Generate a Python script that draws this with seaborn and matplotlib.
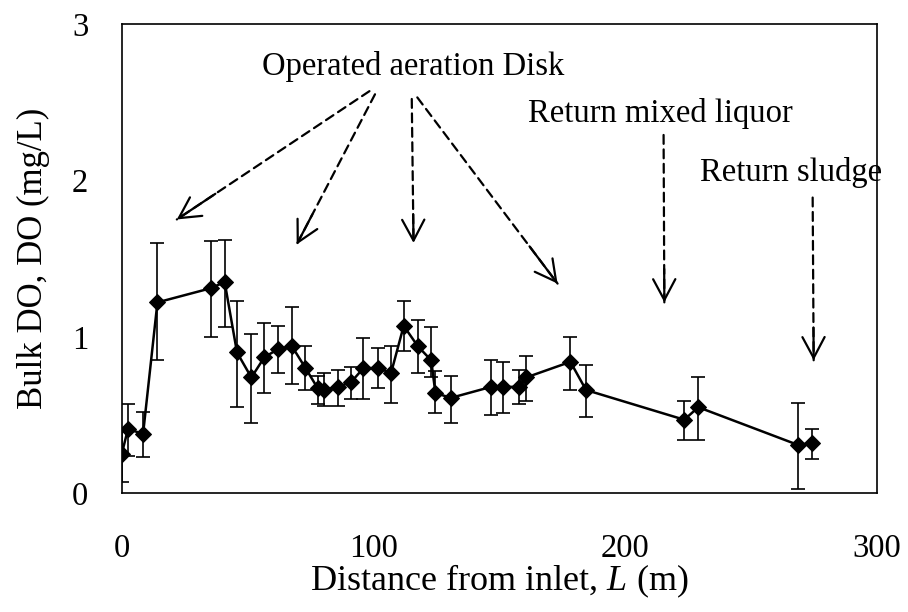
import numpy as np
import pandas as pd
import matplotlib
matplotlib.use("Agg")
import matplotlib.pyplot as plt
import seaborn as sns

# Bulk DO along the tank
distance = [0, 2.5, 8.5, 14.2, 35.3, 40.9, 45.8, 51.5, 56.7, 62, 67.6, 73, 77.9, 80.2,
            85.8, 91.1, 96, 101.7, 107, 112, 117.6, 122.9, 124.6, 130.8, 146.7, 151.3,
            157.7, 160.6, 178.2, 184.4, 223.4, 229, 268.4, 274.3]
do_mean = [0.25, 0.41, 0.38, 1.22, 1.31, 1.35, 0.90, 0.74, 0.87, 0.92, 0.94, 0.80, 0.67, 0.66,
           0.68, 0.71, 0.80, 0.80, 0.77, 1.07, 0.94, 0.85, 0.64, 0.61, 0.68, 0.68,
           0.68, 0.74, 0.84, 0.66, 0.47, 0.55, 0.31, 0.32]
do_upper = [0.40, 0.57, 0.52, 1.60, 1.61, 1.62, 1.23, 1.02, 1.09, 1.07, 1.19, 0.94, 0.75, 0.77,
            0.79, 0.81, 0.99, 0.93, 0.94, 1.23, 1.11, 1.06, 0.78, 0.75, 0.85, 0.84,
            0.79, 0.88, 1.00, 0.82, 0.59, 0.74, 0.58, 0.41]
do_lower = [0.07, 0.24, 0.23, 0.85, 1.00, 1.06, 0.55, 0.45, 0.64, 0.77, 0.70, 0.66, 0.57, 0.56,
            0.56, 0.60, 0.60, 0.67, 0.58, 0.91, 0.77, 0.74, 0.51, 0.45, 0.50, 0.51,
            0.57, 0.59, 0.66, 0.49, 0.34, 0.34, 0.03, 0.22]

x_ticks = [0, 100, 200, 300]
y_ticks = [0, 1, 2, 3]

# annotation labels and their dashed arrows (start -> tip)
labels = ["Operated aeration Disk", "Return mixed liquor", "Return sludge"]
label_pos = [(115.8, 2.73), (214, 2.43), (266, 2.05)]
arrows = [
    ((98.4, 2.57), (21.9, 1.75)),
    ((100.6, 2.55), (69.5, 1.59)),
    ((115.2, 2.52), (115.9, 1.60)),
    ((117.4, 2.53), (173.1, 1.34)),
    ((215.2, 2.29), (215.5, 1.22)),
    ((274.4, 1.89), (274.8, 0.85)),
]

sns.set_theme(style="white")
plt.rcParams["font.family"] = ["Liberation Serif", "DejaVu Serif"]
plt.rcParams["mathtext.fontset"] = "custom"
plt.rcParams["mathtext.rm"] = "Liberation Serif"
plt.rcParams["mathtext.it"] = "Liberation Serif:italic"
plt.rcParams["text.color"] = "black"
plt.rcParams["axes.labelcolor"] = "black"
plt.rcParams["xtick.color"] = "black"
plt.rcParams["ytick.color"] = "black"

df = pd.DataFrame({"L": distance, "DO": do_mean})
err_low = np.array(do_mean) - np.array(do_lower)
err_high = np.array(do_upper) - np.array(do_mean)

fig = plt.figure(figsize=(9.08, 6.12), dpi=100)
ax = fig.add_axes([0.134, 0.194, 0.832, 0.767])

ax.errorbar(distance, do_mean, yerr=[err_low, err_high], fmt="none",
            ecolor="black", elinewidth=1.2, capsize=5, capthick=1.2)
sns.lineplot(data=df, x="L", y="DO", ax=ax, color="black", lw=1.8,
             marker="D", markersize=8.5, markeredgecolor="black", sort=False)

ax.set_xlim(0, 300)
ax.set_ylim(0, 3)
ax.set_xticks(x_ticks)
ax.set_yticks(y_ticks)
ax.tick_params(direction="in", length=8, width=1.1, labelsize=23.5,
               color="black", labelcolor="black")
ax.tick_params(axis="x", pad=29)
ax.tick_params(axis="y", pad=24)
for s in ax.spines.values():
    s.set_color("black")
    s.set_linewidth(1.2)

ax.set_xlabel(r"Distance from inlet, $\it{L}$ (m)", fontsize=26, labelpad=-1, color="black")
ax.set_ylabel("Bulk DO, DO (mg/L)", fontsize=25, labelpad=16, color="black")

for text, pos in zip(labels, label_pos):
    ax.text(pos[0], pos[1], text, fontsize=23.5, ha="center", va="center", color="black")

for start, tip in arrows:
    ax.annotate("", xy=tip, xytext=start,
                arrowprops=dict(arrowstyle="-", color="black", lw=1.6,
                                linestyle=(0, (4, 2.5)), shrinkA=0, shrinkB=0))
    back = (tip[0] - 0.2 * (tip[0] - start[0]), tip[1] - 0.2 * (tip[1] - start[1]))
    ax.annotate("", xy=tip, xytext=back,
                arrowprops=dict(arrowstyle="->,head_length=0.75,head_width=0.4",
                                color="black", lw=1.6, mutation_scale=20,
                                shrinkA=0, shrinkB=0))

fig.savefig("out.png", dpi=100)
